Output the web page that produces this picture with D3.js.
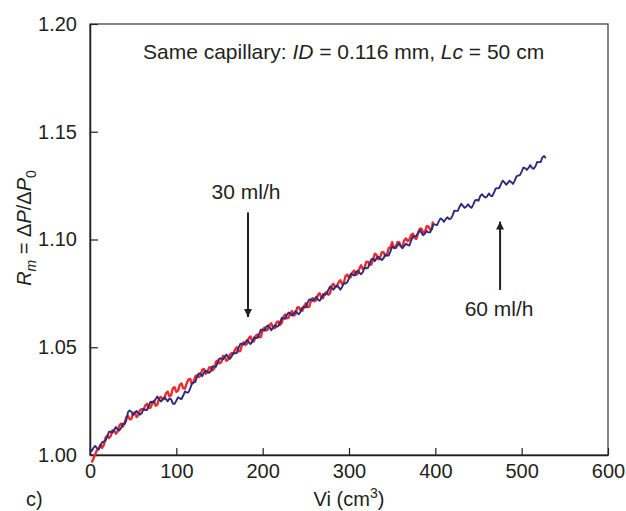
<!DOCTYPE html>
<html><head><meta charset="utf-8">
<script src="https://cdn.jsdelivr.net/npm/d3@7"></script>
<style>
html,body{margin:0;padding:0;background:#fff;}
svg{display:block;font-family:"Liberation Sans",Arial,sans-serif;}
</style></head>
<body>
<svg id="chart" width="626" height="511"></svg>
<script>
// ---- data ----
const xTicks = [0, 100, 200, 300, 400, 500, 600];
const yTicks = [1.00, 1.05, 1.10, 1.15, 1.20];

// 30 ml/h run (red)
const redV = [2,4,6,8,10,12,14,16,18,20,22,24,26,28,30,32,34,36,38,40,42,44,46,48,50,52,54,56,58,60,62,64,66,68,70,72,74,76,78,80,82,84,86,88,90,92,94,96,98,100,102,104,106,108,110,112,114,116,118,120,122,124,126,128,130,132,134,136,138,140,142,144,146,148,150,152,154,156,158,160,162,164,166,168,170,172,174,176,178,180,182,184,186,188,190,192,194,196,198,200,202,204,206,208,210,212,214,216,218,220,222,224,226,228,230,232,234,236,238,240,242,244,246,248,250,252,254,256,258,260,262,264,266,268,270,272,274,276,278,280,282,284,286,288,290,292,294,296,298,300,302,304,306,308,310,312,314,316,318,320,322,324,326,328,330,332,334,336,338,340,342,344,346,348,350,352,354,356,358,360,362,364,366,368,370,372,374,376,378,380,382,384,386,388,390,392,394,396,397,398];
const redR = [0.9965,0.9984,1.0003,1.0022,1.0030,1.0047,1.0033,1.0046,1.0080,1.0090,1.0079,1.0088,1.0115,1.0112,1.0099,1.0109,1.0137,1.0146,1.0131,1.0147,1.0175,1.0181,1.0166,1.0167,1.0195,1.0197,1.0176,1.0185,1.0209,1.0213,1.0210,1.0229,1.0238,1.0218,1.0219,1.0238,1.0250,1.0229,1.0233,1.0263,1.0269,1.0259,1.0260,1.0286,1.0294,1.0272,1.0277,1.0310,1.0314,1.0293,1.0299,1.0325,1.0332,1.0309,1.0308,1.0332,1.0351,1.0353,1.0330,1.0339,1.0365,1.0370,1.0361,1.0368,1.0396,1.0399,1.0377,1.0385,1.0406,1.0407,1.0393,1.0402,1.0434,1.0438,1.0425,1.0430,1.0460,1.0457,1.0437,1.0443,1.0466,1.0473,1.0469,1.0489,1.0500,1.0481,1.0482,1.0510,1.0523,1.0511,1.0517,1.0543,1.0550,1.0526,1.0528,1.0553,1.0559,1.0546,1.0548,1.0581,1.0591,1.0578,1.0583,1.0604,1.0611,1.0591,1.0588,1.0615,1.0620,1.0604,1.0612,1.0641,1.0652,1.0634,1.0637,1.0657,1.0668,1.0647,1.0653,1.0684,1.0686,1.0671,1.0669,1.0691,1.0704,1.0686,1.0688,1.0718,1.0728,1.0713,1.0718,1.0743,1.0751,1.0729,1.0728,1.0750,1.0756,1.0744,1.0750,1.0787,1.0794,1.0778,1.0782,1.0802,1.0811,1.0794,1.0798,1.0831,1.0837,1.0823,1.0825,1.0848,1.0856,1.0835,1.0841,1.0864,1.0880,1.0863,1.0867,1.0896,1.0897,1.0882,1.0884,1.0909,1.0934,1.0928,1.0908,1.0916,1.0941,1.0941,1.0925,1.0929,1.0961,1.0963,1.0988,1.0960,1.0962,1.0987,1.0987,1.0969,1.0967,1.0996,1.1005,1.0992,1.0999,1.1021,1.1027,1.1007,1.1003,1.1029,1.1050,1.1050,1.1032,1.1035,1.1062,1.1061,1.1046,1.1048,1.1079,1.1078];

// 60 ml/h run (blue)
const blueV = [0,2,4,6,8,10,12,14,16,18,20,22,24,26,28,30,32,34,36,38,40,42,44,46,48,50,52,54,56,58,60,62,64,66,68,70,72,74,76,78,80,82,84,86,88,90,92,94,96,98,100,102,104,106,108,110,112,114,116,118,120,122,124,126,128,130,132,134,136,138,140,142,144,146,148,150,152,154,156,158,160,162,164,166,168,170,172,174,176,178,180,182,184,186,188,190,192,194,196,198,200,202,204,206,208,210,212,214,216,218,220,222,224,226,228,230,232,234,236,238,240,242,244,246,248,250,252,254,256,258,260,262,264,266,268,270,272,274,276,278,280,282,284,286,288,290,292,294,296,298,300,302,304,306,308,310,312,314,316,318,320,322,324,326,328,330,332,334,336,338,340,342,344,346,348,350,352,354,356,358,360,362,364,366,368,370,372,374,376,378,380,382,384,386,388,390,392,394,396,398,400,402,404,406,408,410,412,414,416,418,420,422,424,426,428,430,432,434,436,438,440,442,444,446,448,450,452,454,456,458,460,462,464,466,468,470,472,474,476,478,480,482,484,486,488,490,492,494,496,498,500,502,504,506,508,510,512,514,516,518,520,522,524,526,528];
const blueR = [1.0024,1.0019,1.0033,1.0042,1.0032,1.0025,1.0041,1.0060,1.0062,1.0067,1.0086,1.0108,1.0108,1.0103,1.0116,1.0130,1.0119,1.0114,1.0125,1.0145,1.0144,1.0160,1.0199,1.0207,1.0200,1.0185,1.0196,1.0204,1.0194,1.0188,1.0194,1.0214,1.0209,1.0209,1.0229,1.0246,1.0247,1.0245,1.0260,1.0271,1.0259,1.0248,1.0257,1.0268,1.0260,1.0249,1.0262,1.0258,1.0238,1.0238,1.0252,1.0268,1.0262,1.0260,1.0276,1.0295,1.0290,1.0291,1.0308,1.0332,1.0336,1.0339,1.0364,1.0378,1.0377,1.0366,1.0381,1.0392,1.0385,1.0381,1.0390,1.0412,1.0409,1.0410,1.0431,1.0448,1.0448,1.0443,1.0455,1.0466,1.0455,1.0446,1.0457,1.0474,1.0472,1.0473,1.0497,1.0515,1.0517,1.0513,1.0523,1.0534,1.0523,1.0515,1.0525,1.0546,1.0542,1.0544,1.0562,1.0582,1.0581,1.0577,1.0594,1.0601,1.0593,1.0579,1.0591,1.0602,1.0595,1.0598,1.0613,1.0636,1.0634,1.0632,1.0650,1.0661,1.0656,1.0647,1.0655,1.0668,1.0659,1.0653,1.0666,1.0685,1.0686,1.0685,1.0707,1.0722,1.0722,1.0716,1.0723,1.0734,1.0722,1.0716,1.0727,1.0747,1.0743,1.0747,1.0766,1.0781,1.0776,1.0767,1.0780,1.0787,1.0779,1.0767,1.0780,1.0797,1.0796,1.0802,1.0819,1.0841,1.0838,1.0833,1.0847,1.0855,1.0846,1.0839,1.0849,1.0869,1.0866,1.0868,1.0889,1.0909,1.0910,1.0900,1.0914,1.0920,1.0910,1.0905,1.0913,1.0930,1.0925,1.0926,1.0945,1.0967,1.0964,1.0960,1.0972,1.0981,1.0969,1.0959,1.0971,1.0980,1.0975,1.0972,1.0995,1.1014,1.1015,1.1017,1.1030,1.1043,1.1031,1.1020,1.1028,1.1039,1.1033,1.1033,1.1050,1.1071,1.1069,1.1067,1.1084,1.1098,1.1093,1.1082,1.1094,1.1103,1.1095,1.1097,1.1112,1.1134,1.1133,1.1133,1.1151,1.1166,1.1156,1.1147,1.1153,1.1163,1.1152,1.1147,1.1163,1.1181,1.1184,1.1180,1.1201,1.1210,1.1201,1.1195,1.1200,1.1214,1.1203,1.1201,1.1219,1.1237,1.1238,1.1239,1.1257,1.1273,1.1266,1.1254,1.1262,1.1273,1.1266,1.1258,1.1273,1.1293,1.1297,1.1299,1.1315,1.1334,1.1331,1.1323,1.1333,1.1345,1.1332,1.1328,1.1340,1.1360,1.1359,1.1359,1.1381,1.1387,1.1378];

// annotations
const arrow30 = {label: "30 ml/h", v: 183, from: 1.1126, to: 1.0640};
const arrow60 = {label: "60 ml/h", v: 475, from: 1.0766, to: 1.1083};

// ---- drawing ----
const svg = d3.select("#chart");
const L = 90, R = 608, T = 24, B = 455;
const x = d3.scaleLinear().domain([0, 600]).range([L, R]);
const y = d3.scaleLinear().domain([1.0, 1.2]).range([B, T]);
const ink = "#231f20";

const defs = svg.append("defs");
defs.append("marker").attr("id", "ah").attr("viewBox", "0 0 10 10")
  .attr("refX", 10).attr("refY", 5).attr("markerWidth", 8).attr("markerHeight", 8)
  .attr("markerUnits", "userSpaceOnUse").attr("orient", "auto")
  .append("path").attr("d", "M0,0 L10,5 L0,10 Z").attr("fill", ink);

// frame
svg.append("rect").attr("x", L).attr("y", T).attr("width", R - L).attr("height", B - T)
  .attr("fill", "none").attr("stroke", "#444").attr("stroke-width", 1.3);

// axes
const xAxis = d3.axisBottom(x).tickValues(xTicks).tickFormat(d3.format("d"))
  .tickSizeInner(-7).tickSizeOuter(0).tickPadding(9);
const gx = svg.append("g").attr("transform", `translate(0,${B})`).call(xAxis);
const yAxis = d3.axisLeft(y).tickValues(yTicks).tickFormat(d3.format(".2f"))
  .tickSizeInner(-8).tickSizeOuter(0).tickPadding(13);
const gy = svg.append("g").attr("transform", `translate(${L},0)`).call(yAxis);
[gx, gy].forEach(g => {
  g.select(".domain").attr("stroke", ink).attr("stroke-width", 1.5);
  g.selectAll(".tick line").attr("stroke", ink).attr("stroke-width", 1.2);
  g.selectAll(".tick text").attr("fill", ink).attr("font-size", 20)
    .attr("font-family", "Liberation Sans, Arial, sans-serif");
});

// series
const line = d3.line().x(d => x(d[0])).y(d => y(d[1]));
const blueData = d3.zip(blueV, blueR);
const redData = d3.zip(redV, redR);
svg.append("path").datum(redData).attr("d", line).attr("fill", "none")
  .attr("stroke", "#ee2a2a").attr("stroke-width", 2.4).attr("stroke-linejoin", "round");
svg.append("path").datum(blueData).attr("d", line).attr("fill", "none")
  .attr("stroke", "#2d2b7f").attr("stroke-width", 1.9).attr("stroke-linejoin", "round");

// title
const title = svg.append("text").attr("x", 143).attr("y", 59).attr("font-size", 21).attr("fill", ink);
title.append("tspan").text("Same capillary: ");
title.append("tspan").attr("font-style", "italic").text("ID");
title.append("tspan").text(" = 0.116 mm, ");
title.append("tspan").attr("font-style", "italic").text("Lc");
title.append("tspan").text(" = 50 cm");

// arrows
[arrow30, arrow60].forEach(a => {
  svg.append("line").attr("x1", x(a.v)).attr("x2", x(a.v))
    .attr("y1", y(a.from)).attr("y2", y(a.to))
    .attr("stroke", ink).attr("stroke-width", 2).attr("marker-end", "url(#ah)");
});
svg.append("text").attr("x", x(arrow30.v) - 2).attr("y", 199).attr("text-anchor", "middle")
  .attr("font-size", 21).attr("fill", ink).text(arrow30.label);
svg.append("text").attr("x", x(arrow60.v) - 1).attr("y", 316).attr("text-anchor", "middle")
  .attr("font-size", 21).attr("fill", ink).text(arrow60.label);

// x label
const xl = svg.append("text").attr("x", (L + R) / 2).attr("y", 506).attr("text-anchor", "middle")
  .attr("font-size", 20).attr("fill", ink);
xl.append("tspan").text("Vi (cm");
xl.append("tspan").attr("dy", -8).attr("font-size", 14).text("3");
xl.append("tspan").attr("dy", 8).text(")");

svg.append("text").attr("x", 26).attr("y", 506).attr("font-size", 20).attr("fill", ink).text("c)");

// y label
const yl = svg.append("text").attr("transform", "translate(31,228) rotate(-90)")
  .attr("text-anchor", "middle").attr("font-size", 20).attr("fill", ink);
yl.append("tspan").attr("font-style", "italic").text("R");
yl.append("tspan").attr("font-style", "italic").attr("font-size", 14).attr("dy", 5).text("m");
yl.append("tspan").attr("dy", -5).text(" = Δ");
yl.append("tspan").attr("font-style", "italic").text("P");
yl.append("tspan").text("/Δ");
yl.append("tspan").attr("font-style", "italic").text("P");
yl.append("tspan").attr("font-size", 14).attr("dy", 5).text("0");
</script>
</body></html>
